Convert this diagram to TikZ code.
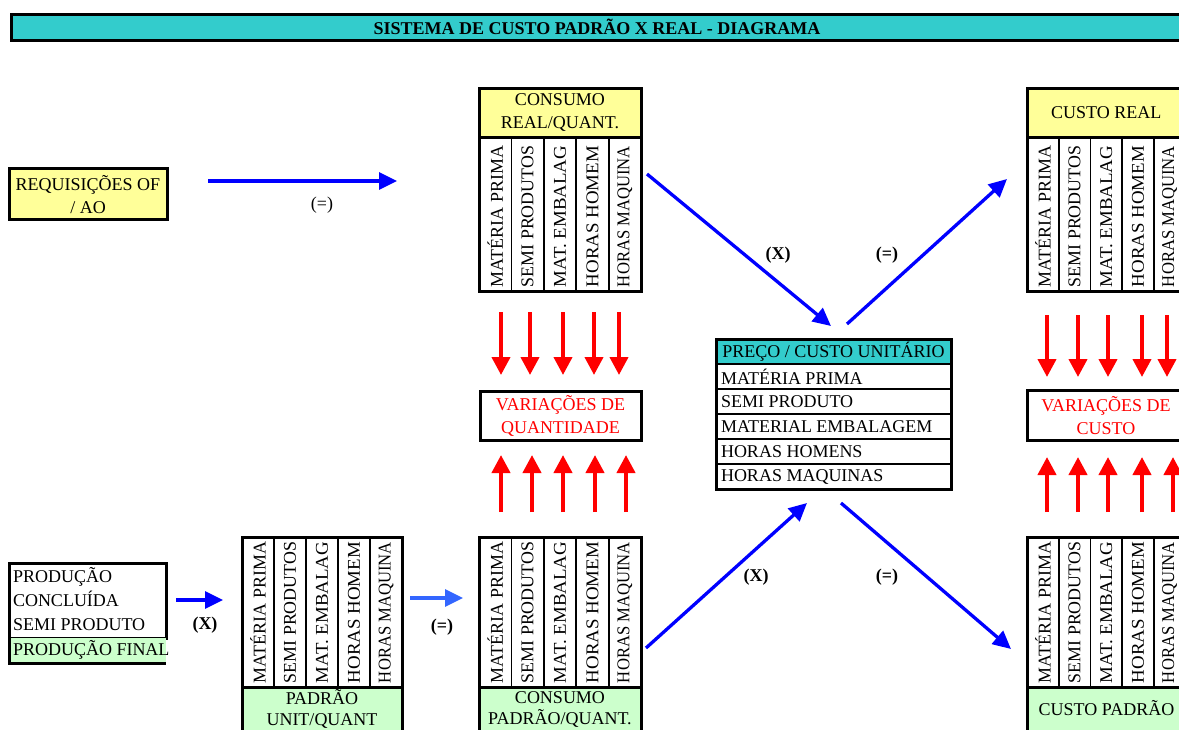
\documentclass[tikz,border=0pt]{standalone}
\usepackage{fontspec}
\setmainfont{Liberation Serif}
\usepackage{graphicx}
\usetikzlibrary{arrows.meta,calc}
\definecolor{tcyan}{HTML}{33CCCC}
\definecolor{tyellow}{HTML}{FFFF99}
\definecolor{tgreen}{HTML}{CCFFCC}
\definecolor{tblue}{HTML}{0000FF}
\definecolor{tlblue}{HTML}{3366FF}
\definecolor{tred}{HTML}{FF0000}
\newcommand\fitw[1]{\resizebox{141pt}{\height}{#1}}
\tikzset{
  base/.style={font=\fontsize{18}{23}\selectfont, inner sep=0pt, outer sep=0pt},
  frame/.style={draw=black, line width=3pt, inner sep=0pt, outer sep=0pt},
  cell/.style={draw=black, line width=1.8pt, inner sep=0pt, outer sep=0pt},
  vtext/.style={base, rotate=90, anchor=west},
  bluearrow/.style={draw=tblue, line width=3.3pt, -{Triangle[length=18pt,width=17pt]}},
  lbluearrow/.style={draw=tlblue, line width=3.3pt, -{Triangle[length=18pt,width=17pt]}},
  redarrow/.style={draw=tred, line width=4pt, -{Triangle[length=18pt,width=18pt]}},
  lbl/.style={base, font=\fontsize{18}{22}\selectfont\bfseries},
  rowcell/.style={cell, line width=2.4pt, minimum width=235pt, minimum height=25pt, anchor=north west},
}
% #1 prefix, #2 left x, #3 top y, #4 height, #5 column width
\newcommand\colgrid[5]{%
  \foreach \t [count=\i] in {MATÉRIA PRIMA, SEMI PRODUTOS, MAT. EMBALAG, HORAS HOMEM, HORAS MAQUINA}{
    \node[cell, minimum width=#5pt, minimum height=#4pt, anchor=north west] (#1c\i) at ({#2+(\i-1)*#5}, #3) {};
    \node[vtext] (#1t\i) at ($(#1c\i.south)+(0,-4)$) {\fitw{\t}};
  }}
\begin{document}
\begin{tikzpicture}[x=1pt,y=-1pt]
\useasboundingbox (0,0) rectangle (1179,729);
\clip (0,0) rectangle (1179,729);

% title banner
\node[frame, fill=tcyan, minimum width=1175pt, minimum height=25.5pt, anchor=north west,
      font=\fontsize{18}{22}\selectfont\bfseries] (banner) at (11,14.5) {\hspace*{-3pt}SISTEMA DE CUSTO PADRÃO X REAL - DIAGRAMA};

% requisicoes
\node[frame, fill=tyellow, minimum width=158pt, minimum height=51pt, anchor=north west] (req) at (9,168) {};
\node[base, align=center] (reqt) at (88,194.5) {REQUISIÇÕES OF\\/ AO};

% consumo real
\colgrid{cr}{479}{137}{154}{32.4}
\node[frame, fill=tyellow, minimum width=162pt, minimum height=49pt, anchor=north west, base, align=center] (crh) at (479,88) {CONSUMO\\REAL/QUANT.};
\draw[line width=3pt] (crh.north west) rectangle (crc5.south east);

% custo real
\colgrid{rr}{1027}{137}{154}{31.7}
\node[frame, fill=tyellow, minimum width=158.5pt, minimum height=49pt, anchor=north west, base] (rrh) at (1027,88) {CUSTO REAL};
\draw[line width=3pt] (rrh.north west) rectangle (rrc5.south east);

% padrao unit/quant
\colgrid{pu}{242}{537}{150}{32}
\node[frame, fill=tgreen, minimum width=160pt, minimum height=70pt, anchor=north west] (puh) at (242,687) {};
\node[base, align=center, font=\fontsize{18}{21}\selectfont] (puht) at (322,709) {PADRÃO\\UNIT/QUANT};
\draw[line width=3pt] (puh.south west) rectangle (puc5.north east);

% consumo padrao
\colgrid{cp}{479}{537}{150}{32.4}
\node[frame, fill=tgreen, minimum width=162pt, minimum height=70pt, anchor=north west] (cph) at (479,687) {};
\node[base, align=center, font=\fontsize{18}{21}\selectfont] (cpht) at (560,709) {CONSUMO\\PADRÃO/QUANT.};
\draw[line width=3pt] (cph.south west) rectangle (cpc5.north east);

% custo padrao
\colgrid{rp}{1027}{537}{150}{31.7}
\node[frame, fill=tgreen, minimum width=158.5pt, minimum height=70pt, anchor=north west] (rph) at (1027,687) {};
\node[base] (rpht) at (1106.5,708) {CUSTO PADRÃO};
\draw[line width=3pt] (rph.south west) rectangle (rpc5.north east);

% variacoes
\node[frame, fill=white, minimum width=161pt, minimum height=49pt, anchor=north west] (vq) at (480,391) {};
\node[base, text=tred, align=center] (vqt) at (560.5,416) {VARIAÇÕES DE\\QUANTIDADE};
\node[frame, fill=white, minimum width=162pt, minimum height=50pt, anchor=north west] (vc) at (1027,390) {};
\node[base, text=tred, align=center] (vct) at (1106,416) {VARIAÇÕES DE\\CUSTO};

% preco / custo unitario table
\node[rowcell, fill=tcyan, base, line width=2.4pt] (pc0) at (716,339) {PREÇO / CUSTO UNITÁRIO};
\foreach \t [count=\i] in {MATÉRIA PRIMA, SEMI PRODUTO, MATERIAL EMBALAGEM, HORAS HOMENS, HORAS MAQUINAS}{
  \node[rowcell, fill=white] (pc\i) at (716,{339+25*\i}) {};
  \node[base, anchor=west] (pct\i) at ($(pc\i.west)+(5,0)$) {\t};
}
\draw[line width=3pt] (pc0.north west) rectangle (pc5.south east);

% producao box
\node[frame, fill=white, minimum width=157pt, minimum height=75pt, anchor=north west] (prod) at (9,563) {};
\node[fill=tgreen, inner sep=0pt, minimum width=157pt, minimum height=25pt, anchor=north west] (prodf) at (9,638) {};
\draw[line width=3pt] (prodf.north west) -- (prodf.south west) -- (prodf.south east);
\node[base, anchor=base west] (pl1) at (13,582) {PRODUÇÃO};
\node[base, anchor=base west] (pl2) at (13,606) {CONCLUÍDA};
\node[base, anchor=base west] (pl3) at (13,630) {SEMI PRODUTO};
\node[base, anchor=base west] (pl4) at (13,655) {PRODUÇÃO FINAL};

% blue connectors
\coordinate (a1s) at (208,181); \coordinate (a1e) at (397,181);
\draw[bluearrow] (a1s) -- (a1e);
\node[base] (l1) at (322,205) {(=)};

\coordinate (a2s) at (647,174); \coordinate (a2e) at (831,326);
\draw[bluearrow] (a2s) -- (a2e);
\node[lbl] (l2) at (778,255) {(X)};

\coordinate (a3s) at (847,324); \coordinate (a3e) at (1007,179);
\draw[bluearrow] (a3s) -- (a3e);
\node[lbl] (l3) at (887,255) {(=)};

\coordinate (a4s) at (646,648); \coordinate (a4e) at (807,503);
\draw[bluearrow] (a4s) -- (a4e);
\node[lbl] (l4) at (756,577) {(X)};

\coordinate (a5s) at (841,503); \coordinate (a5e) at (1011,649);
\draw[bluearrow] (a5s) -- (a5e);
\node[lbl] (l5) at (887,577) {(=)};

\coordinate (a6s) at (176,600); \coordinate (a6e) at (223,600);
\draw[bluearrow] (a6s) -- (a6e);
\node[lbl] (l6) at (205,625) {(X)};

\coordinate (a7s) at (410,598); \coordinate (a7e) at (463,598);
\draw[lbluearrow] (a7s) -- (a7e);
\node[lbl] (l7) at (442,627) {(=)};

% red arrows
\foreach \x [count=\i] in {501,530,563,594,619}{
  \coordinate (qds\i) at (\x,312); \coordinate (qde\i) at (\x,375);
  \draw[redarrow] (qds\i) -- (qde\i);}
\foreach \x [count=\i] in {501,532,563,595,626}{
  \coordinate (qus\i) at (\x,512); \coordinate (que\i) at (\x,455);
  \draw[redarrow] (qus\i) -- (que\i);}
\foreach \x [count=\i] in {1047,1078,1108,1142,1167}{
  \coordinate (cds\i) at (\x,315); \coordinate (cde\i) at (\x,377);
  \draw[redarrow] (cds\i) -- (cde\i);}
\foreach \x [count=\i] in {1047,1078,1108,1142,1173}{
  \coordinate (cus\i) at (\x,512); \coordinate (cue\i) at (\x,457);
  \draw[redarrow] (cus\i) -- (cue\i);}
\end{tikzpicture}
\end{document}
